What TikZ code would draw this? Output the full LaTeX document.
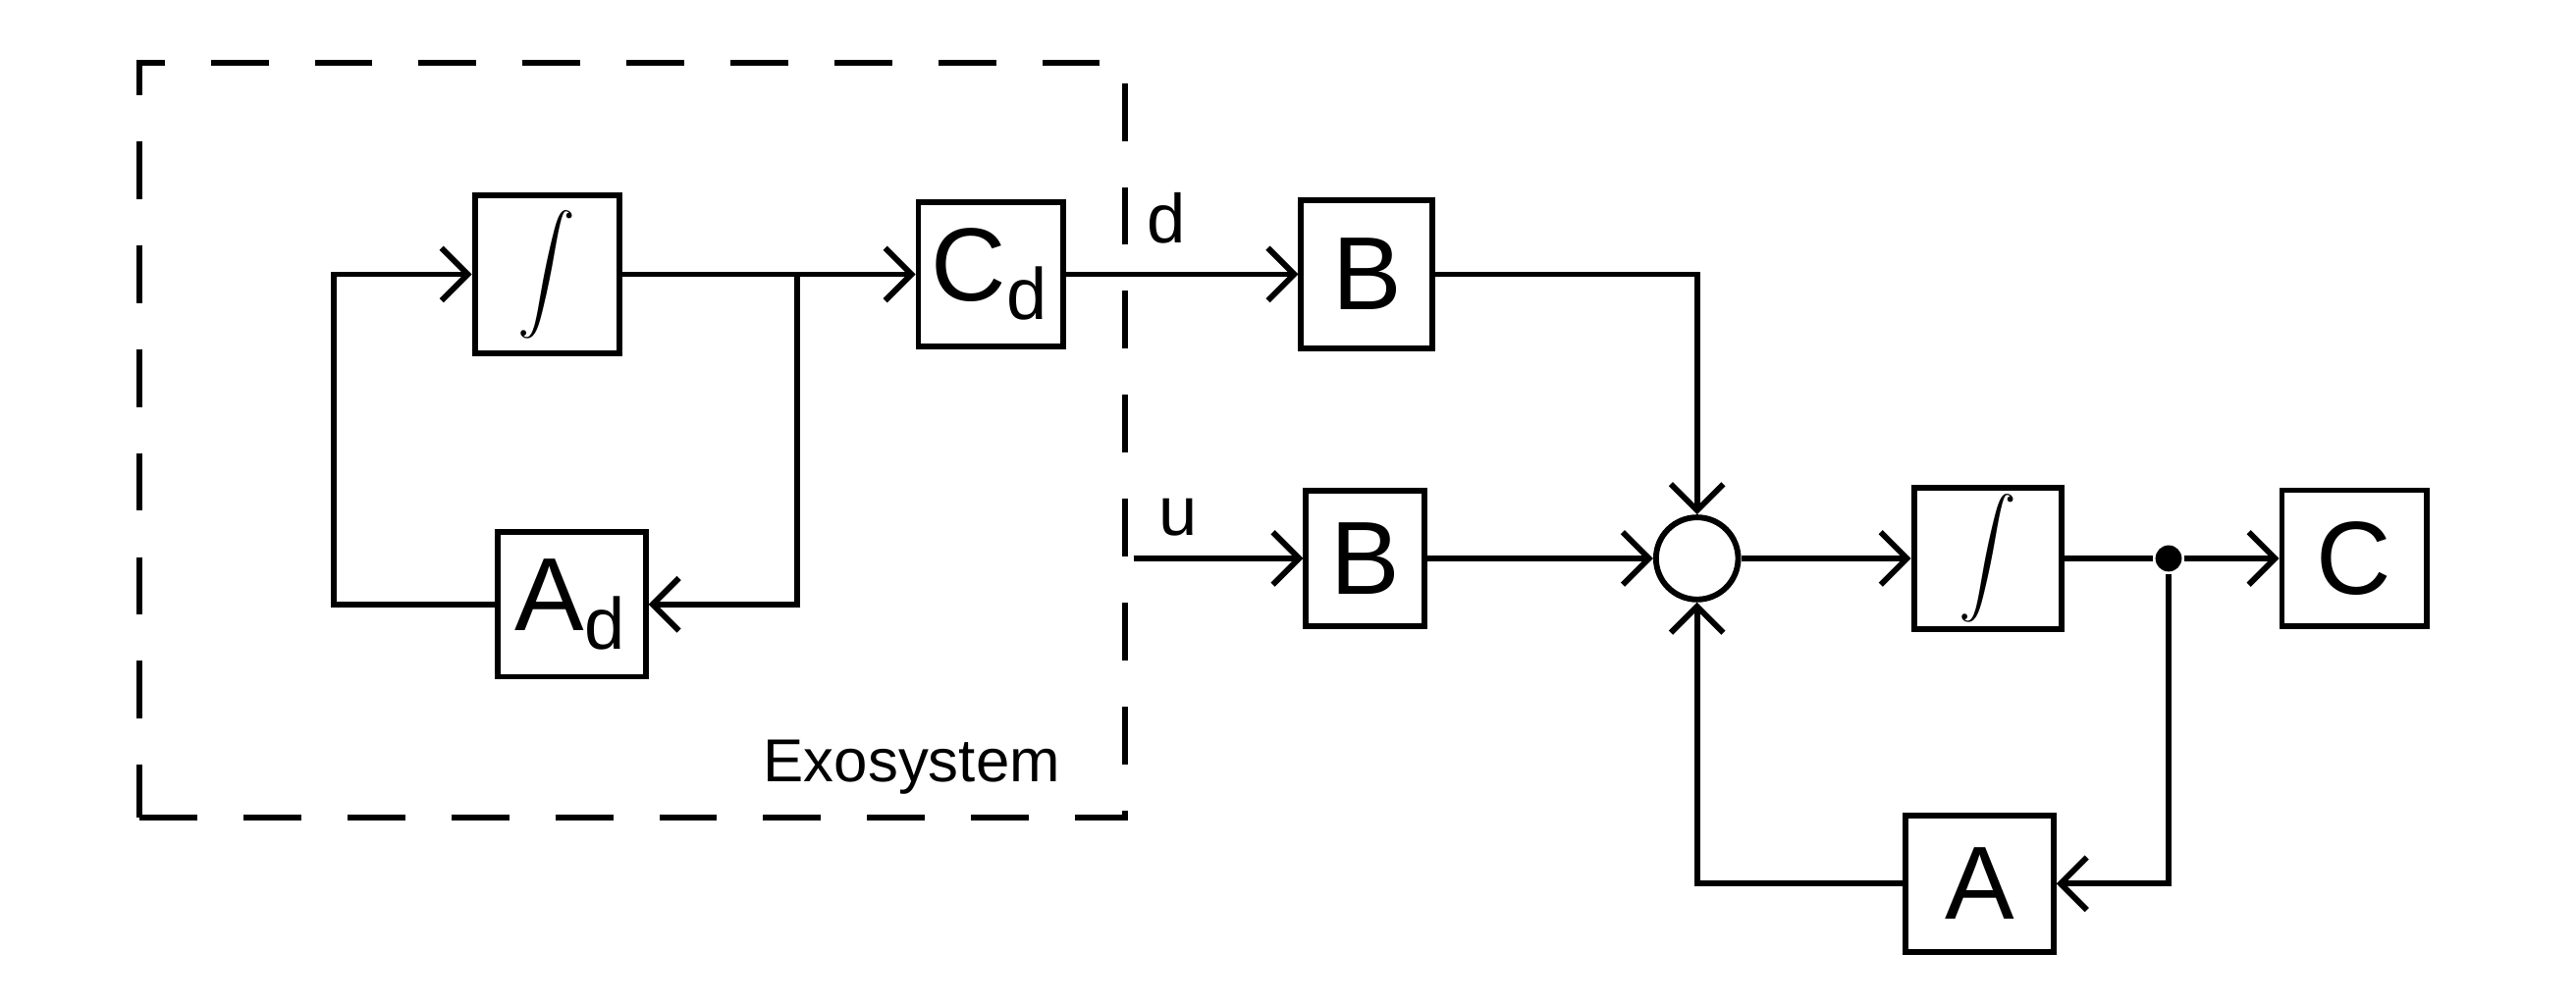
\documentclass[tikz,border=0pt]{standalone}
\usepackage{fontspec}
\setmainfont{Liberation Sans}
\usetikzlibrary{arrows.meta,positioning,shapes.geometric}

\begin{document}
\begin{tikzpicture}[
  line width=1pt,
  blk/.style={draw, line width=1pt, minimum width=0.88cm, minimum height=0.88cm, inner sep=0pt,
              font=\fontsize{18}{20}\selectfont},
  sumnode/.style={draw, circle, line width=1pt, minimum size=0.5cm, inner sep=0pt},
  frame/.style={draw, line width=1pt, dash pattern=on 10pt off 8pt, minimum width=6cm, minimum height=4.6cm},
  arr/.style={-{Straight Barb[length=1.6mm, width=3.2mm]}, line width=1pt},
  lbl/.style={font=\fontsize{12}{14}\selectfont}
]
\useasboundingbox (0,0) rectangle (15.68,6.12);

% Exosystem
\node[frame] (exo) at (3.85,3.44) {};
\node[blk, minimum height=0.96cm, font=\normalsize] (int1) at (3.33,4.45) {$\displaystyle\int$};
\node[blk, minimum width=0.9cm] (ad) at (3.48,2.44) {A\textsubscript{d}};
\node[blk] (cd) at (6.03,4.45) {C\textsubscript{d}};
\node[lbl, font=\fontsize{10.5}{12}\selectfont] (exolbl) at (5.55,1.45) {Exosystem};
\coordinate (jr) at (4.85,4.45);

% Plant
\node[blk, minimum width=0.8cm, minimum height=0.9cm] (b1) at (8.32,4.45) {B};
\node[blk, minimum width=0.72cm, minimum height=0.82cm] (b2) at (8.31,2.72) {B};
\node[sumnode] (sum) at (10.33,2.72) {};
\node[blk, minimum width=0.9cm, minimum height=0.86cm, font=\normalsize] (int2) at (12.10,2.72) {$\displaystyle\int$};
\node[blk, minimum height=0.83cm] (c) at (14.33,2.72) {C};
\node[blk, minimum width=0.9cm, minimum height=0.83cm] (a) at (12.05,0.74) {A};
\node[circle, fill, inner sep=0pt, minimum size=0.16cm] (dot) at (13.20,2.72) {};
\coordinate (uin) at (6.90,2.72);
\node[lbl] (dlbl) at (7.10,4.79) {d};
\node[lbl] (ulbl) at (7.17,2.97) {u};

% Connections
\draw[arr] (ad.west) -- ++(-0.98,0) |- (int1.west);
\draw[arr] (int1.east) -- (cd.west);
\draw[arr] (jr) |- (ad.east);
\draw[arr] (cd.east) -- (b1.west);
\draw[arr] (uin) -- (b2.west);
\draw[arr] (b1.east) -| (sum.north);
\draw[arr] (b2.east) -- (sum.west);
\draw[arr] (sum.east) -- (int2.west);
\draw (int2.east) -- (dot);
\draw[arr] (dot) -- (c.west);
\draw[arr] (dot) |- (a.east);
\draw[arr] (a.west) -| (sum.south);

\end{tikzpicture}
\end{document}
